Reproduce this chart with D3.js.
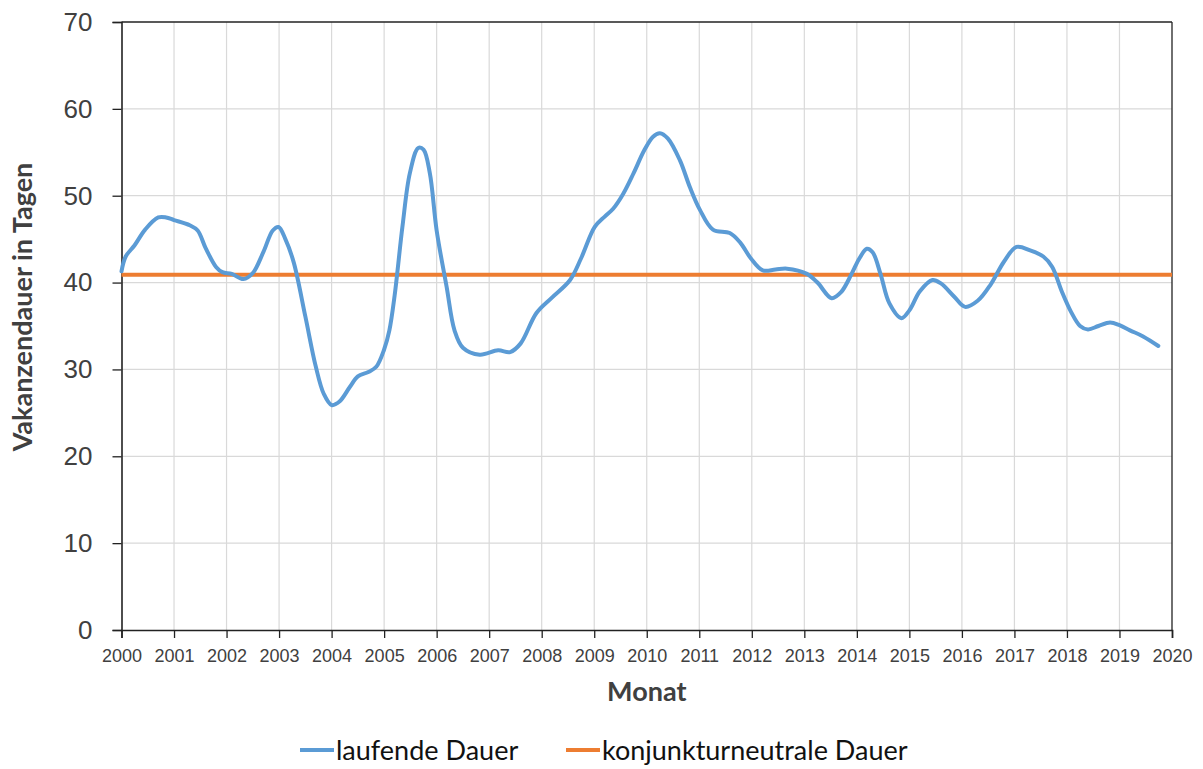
<!DOCTYPE html>
<html>
<head>
<meta charset="utf-8">
<script src="https://cdn.jsdelivr.net/npm/d3@7/dist/d3.min.js"></script>
<style>
  body { margin: 0; background: #fff; }
  svg { display: block; font-family: Lato, "Open Sans", sans-serif; }
</style>
</head>
<body>
<svg id="chart" width="1203" height="769"></svg>
<script>
// Laufende Vakanzendauer (Tage), Zeitpunkt als Dezimaljahr
const years = [
  2000.0, 2000.08, 2000.25, 2000.45, 2000.7, 2000.85, 2001.0, 2001.3, 2001.45, 2001.6,
  2001.8, 2001.92, 2002.1, 2002.32, 2002.5, 2002.7, 2002.88, 2002.99, 2003.12, 2003.28,
  2003.5, 2003.7, 2003.85, 2004.0, 2004.15, 2004.35, 2004.5, 2004.7, 2004.85, 2005.0,
  2005.1, 2005.2, 2005.35, 2005.49, 2005.65, 2005.75, 2005.87, 2006.0, 2006.19, 2006.34,
  2006.5, 2006.82, 2007.17, 2007.4, 2007.6, 2007.9, 2008.2, 2008.54, 2008.75, 2009.01,
  2009.2, 2009.36, 2009.55, 2009.75, 2009.95, 2010.12, 2010.25, 2010.4, 2010.63, 2010.82,
  2011.01, 2011.26, 2011.58, 2011.78, 2011.98, 2012.21, 2012.45, 2012.67, 2013.05, 2013.25,
  2013.52, 2013.7, 2013.9, 2014.05, 2014.19, 2014.3, 2014.45, 2014.62, 2014.85, 2015.0,
  2015.2, 2015.44, 2015.6, 2015.85, 2016.06, 2016.3, 2016.55, 2016.8, 2017.04, 2017.3,
  2017.55, 2017.72, 2017.9, 2018.08, 2018.25, 2018.4, 2018.6, 2018.82, 2019.0, 2019.2,
  2019.45, 2019.74
];
const laufendeDauer = [
  41.3, 43.0, 44.3, 46.1, 47.5, 47.5, 47.2, 46.6, 46.0, 44.0,
  41.8, 41.2, 41.0, 40.4, 41.1, 43.5, 46.0, 46.4, 45.0, 42.3,
  36.1, 30.3, 27.2, 25.9, 26.3, 28.0, 29.2, 29.7, 30.3, 32.3,
  34.5, 38.5, 46.5, 52.6, 55.5, 55.3, 52.6, 46.0, 39.5, 34.5,
  32.5, 31.7, 32.2, 32.0, 33.0, 36.5, 38.3, 40.3, 42.8, 46.4,
  47.6, 48.5, 50.2, 52.6, 55.2, 56.8, 57.2, 56.6, 54.1, 51.0,
  48.4, 46.1, 45.7, 44.6, 42.8, 41.4, 41.5, 41.6, 41.0, 40.0,
  38.2, 38.9, 41.0, 42.8, 43.9, 43.5, 41.0, 37.6, 35.9, 36.8,
  39.0, 40.3, 39.9, 38.4, 37.2, 37.9, 39.8, 42.4, 44.1, 43.7,
  43.0, 41.8, 39.0, 36.6, 35.0, 34.6, 35.0, 35.4, 35.1, 34.5,
  33.8, 32.7
];
// Konjunkturneutrale Dauer (konstant)
const neutralDauer = 40.9;

const xTicks = d3.range(2000, 2021);
const yTicks = d3.range(0, 71, 10);
const seriesNames = ["laufende Dauer", "konjunkturneutrale Dauer"];
const seriesColors = ["#5b9bd5", "#ed7d31"];

const svg = d3.select("#chart");
const margin = { left: 121.5, right: 1172, top: 22, bottom: 630 };

const x = d3.scaleLinear().domain([2000, 2020]).range([margin.left, margin.right]);
const y = d3.scaleLinear().domain([0, 70]).range([margin.bottom, margin.top]);

// Gitternetz
const grid = svg.append("g");
grid.selectAll("line.v").data(xTicks.slice(1, -1)).join("line")
  .attr("x1", d => x(d)).attr("x2", d => x(d))
  .attr("y1", y(0)).attr("y2", y(70))
  .attr("stroke", "#d9d9d9").attr("stroke-width", 1.2);
grid.selectAll("line.h").data(yTicks.slice(1, -1)).join("line")
  .attr("x1", x(2000)).attr("x2", x(2020))
  .attr("y1", d => y(d)).attr("y2", d => y(d))
  .attr("stroke", "#d9d9d9").attr("stroke-width", 1.2);

// Rahmen oben und rechts
svg.append("line").attr("x1", x(2000)).attr("x2", x(2020))
  .attr("y1", y(70)).attr("y2", y(70)).attr("stroke", "#222").attr("stroke-width", 1.3);
svg.append("line").attr("x1", x(2020)).attr("x2", x(2020))
  .attr("y1", y(0)).attr("y2", y(70)).attr("stroke", "#222").attr("stroke-width", 1.3);

// Achsen
const xAxis = svg.append("g")
  .attr("transform", `translate(0,${y(0)})`)
  .call(d3.axisBottom(x).tickValues(xTicks).tickFormat(d3.format("d")).tickSize(8).tickPadding(11));
xAxis.selectAll("text").attr("font-size", 18).attr("fill", "#404040");

const yAxis = svg.append("g")
  .attr("transform", `translate(${x(2000)},0)`)
  .call(d3.axisLeft(y).tickValues(yTicks).tickSize(9).tickPadding(20));
yAxis.selectAll("text").attr("font-size", 26).attr("fill", "#404040");

[xAxis, yAxis].forEach(a => {
  a.select(".domain").attr("stroke", "#222").attr("stroke-width", 1.6);
  a.selectAll(".tick line").attr("stroke", "#222").attr("stroke-width", 1.3);
});

// Achsentitel
svg.append("text")
  .attr("x", (x(2000) + x(2020)) / 2).attr("y", 701)
  .attr("text-anchor", "middle").attr("font-size", 27).attr("font-weight", "bold")
  .attr("fill", "#404040").text("Monat");
svg.append("text")
  .attr("transform", `translate(32,307) rotate(-90)`)
  .attr("text-anchor", "middle").attr("font-size", 27).attr("font-weight", "bold")
  .attr("fill", "#404040").text("Vakanzendauer in Tagen");

// Konjunkturneutrale Dauer
svg.append("line")
  .attr("x1", x(2000)).attr("x2", x(2020))
  .attr("y1", y(neutralDauer)).attr("y2", y(neutralDauer))
  .attr("stroke", seriesColors[1]).attr("stroke-width", 4);

// Laufende Dauer
const line = d3.line()
  .x((d, i) => x(years[i]))
  .y(d => y(d))
  .curve(d3.curveCatmullRom.alpha(0.5));
svg.append("path")
  .datum(laufendeDauer)
  .attr("d", line)
  .attr("fill", "none")
  .attr("stroke", seriesColors[0])
  .attr("stroke-width", 4)
  .attr("stroke-linejoin", "round")
  .attr("stroke-linecap", "round");

// Legende
const legendX = [300, 566];
const legend = svg.append("g");
seriesNames.forEach((name, i) => {
  legend.append("line")
    .attr("x1", legendX[i]).attr("x2", legendX[i] + 34)
    .attr("y1", 750).attr("y2", 750)
    .attr("stroke", seriesColors[i]).attr("stroke-width", 4);
  legend.append("text")
    .attr("x", legendX[i] + 36).attr("y", 760)
    .attr("font-size", 27).attr("fill", "#111").text(name);
});
</script>
</body>
</html>
